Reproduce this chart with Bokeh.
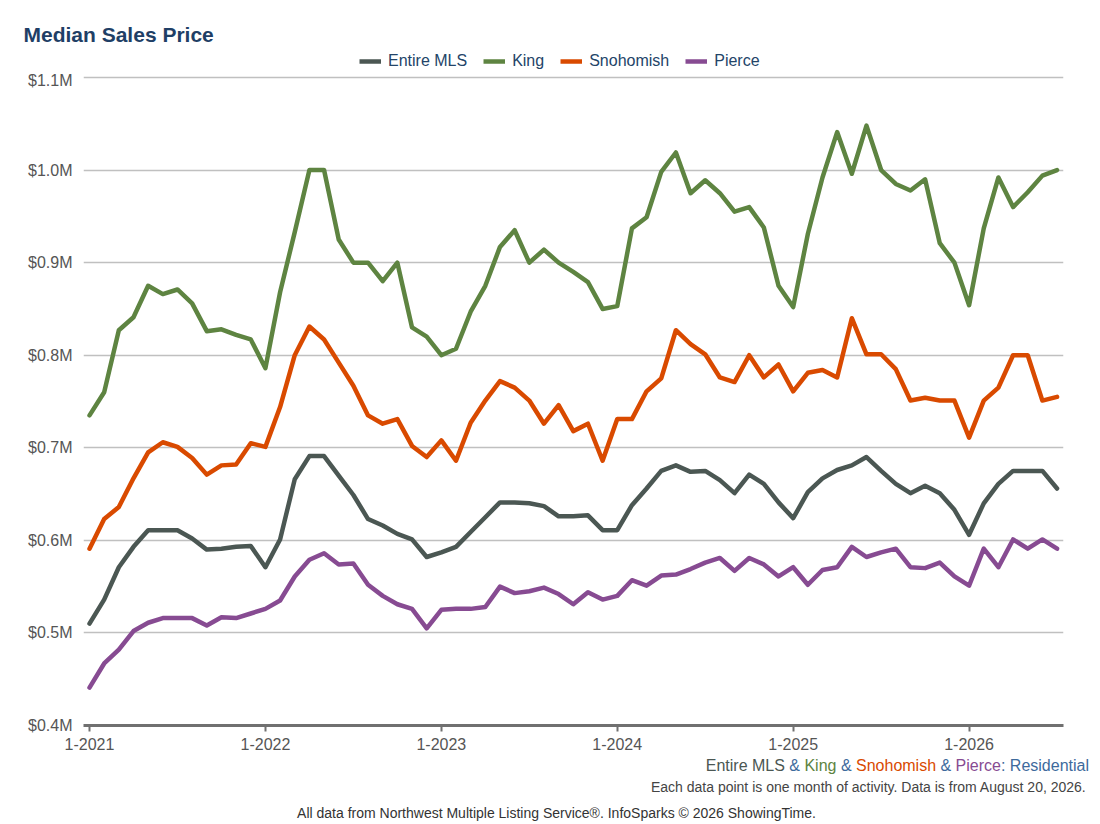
from bokeh.plotting import figure
from bokeh.layouts import column
from bokeh.models import Range1d, Legend, LegendItem, FixedTicker
from bokeh.core.properties import value
from bokeh.embed import file_html
from bokeh.resources import INLINE

# ---------------- data (median sales price, thousands of $) ----------------
months = [f"{m}-{y}" for y in range(2021, 2027) for m in range(1, 13)][:67]

entire_mls = [510, 536, 571, 593, 611, 611, 611, 602, 590, 591, 593, 594,
              571, 601, 666, 691, 691, 670, 649, 623, 616, 607, 601, 582,
              587, 593, 609, 625, 641, 641, 640, 637, 626, 626, 627, 611,
              611, 638, 656, 675, 681, 674, 675, 665, 651, 671, 661, 641,
              624, 652, 667, 676, 681, 690, 675, 661, 651, 659, 651, 633,
              606, 640, 661, 675, 675, 675, 656]
king = [735, 760, 827, 841, 875, 866, 871, 856, 826, 828, 822, 817,
        786, 868, 933, 1000, 1000, 925, 900, 900, 880, 900, 830, 820,
        800, 807, 847, 875, 917, 935, 900, 914, 900, 890, 879, 850,
        853, 937, 949, 998, 1019, 975, 989, 975, 955, 960, 938, 875,
        852, 931, 992, 1041, 996, 1048, 1000, 985, 978, 990, 921, 900,
        854, 937, 992, 960, 976, 994, 1000]
snohomish = [591, 623, 636, 667, 695, 706, 701, 689, 671, 681, 682, 705,
             701, 744, 800, 831, 817, 792, 767, 735, 726, 731, 702, 690,
             708, 686, 727, 751, 772, 765, 751, 726, 746, 718, 726, 686,
             731, 731, 761, 775, 827, 812, 801, 776, 771, 800, 776, 790,
             761, 781, 784, 776, 840, 801, 801, 785, 751, 754, 751, 751,
             711, 751, 765, 800, 800, 751, 755]
pierce = [441, 467, 482, 502, 511, 516, 516, 516, 508, 517, 516, 521,
          526, 535, 561, 579, 586, 574, 575, 552, 540, 531, 526, 505,
          525, 526, 526, 528, 550, 543, 545, 549, 542, 531, 544, 536,
          540, 557, 551, 562, 563, 569, 576, 581, 567, 581, 574, 561,
          571, 552, 568, 571, 593, 582, 587, 591, 571, 570, 576, 561,
          551, 591, 571, 601, 591, 601, 591]

series_names = ["Entire MLS", "King", "Snohomish", "Pierce"]
series_values = [entire_mls, king, snohomish, pierce]
series_colors = ["#4b5753", "#5e8441", "#d94a00", "#874b92"]

y_ticks = [400, 500, 600, 700, 800, 900, 1000, 1100]
y_tick_labels = ["$0.4M", "$0.5M", "$0.6M", "$0.7M", "$0.8M", "$0.9M", "$1.0M", "$1.1M"]

title_text = "Median Sales Price"
subtitle_parts = ["Entire MLS", " & ", "King", " & ", "Snohomish", " & ", "Pierce", ": Residential"]
note_text = "Each data point is one month of activity. Data is from August 20, 2026."
credit_text = "All data from Northwest Multiple Listing Service\u00ae. InfoSparks \u00a9 2026 ShowingTime."

# ---------------- styling ----------------
FONT = "Liberation Sans"
NAVY = "#234468"
BLUE = "#3d6a9c"
W = 1100
NAN = float("nan")


def text_fig(height, top):
    f = figure(width=W, height=height, output_backend="svg", toolbar_location=None,
               x_range=Range1d(0, W), y_range=Range1d(top + height, top),
               x_axis_type=None, y_axis_type=None, frame_align=False,
               min_border_left=0, min_border_right=0, min_border_top=0, min_border_bottom=0)
    f.outline_line_color = None
    f.xgrid.grid_line_color = None
    f.ygrid.grid_line_color = None
    return f


# ---------------- header: title + legend ----------------
HEAD_H = 71
head = text_fig(HEAD_H, 0)
head.text(x=[23], y=[34.2], text=[title_text], text_font=value(FONT),
          text_font_size=value("21px"), text_font_style="bold", text_color="#1f3f66",
          text_baseline="middle", text_align="left")

# legend swatches (line renderers with a single undrawn point, used only as legend keys)
key_renderers = [head.line(x=[NAN], y=[NAN], line_color=c, line_width=4.5) for c in series_colors]
legend = Legend(items=[LegendItem(label=n, renderers=[r]) for n, r in zip(series_names, key_renderers)],
                orientation="horizontal", location=(359, 0),
                padding=0, margin=0, spacing=16, label_standoff=7,
                glyph_width=22, glyph_height=20, label_height=20,
                border_line_color=None, background_fill_alpha=0,
                label_text_font=FONT, label_text_font_size="16px",
                label_text_color=NAVY)
head.add_layout(legend)

# ---------------- main chart ----------------
TOP_B, FRAME_H, BOT_B = 4, 650, 30
x = list(range(len(months)))
p = figure(width=W, height=TOP_B + FRAME_H + BOT_B, output_backend="svg", toolbar_location=None,
           x_range=Range1d(-0.41, 66.44), y_range=Range1d(400, 1102.16), frame_align=False,
           min_border_left=83, min_border_right=37, min_border_top=TOP_B,
           min_border_bottom=BOT_B)
p.outline_line_color = None

for name, vals, col in zip(series_names, series_values, series_colors):
    p.line(x, vals, line_color=col, line_width=4.5, line_join="round", line_cap="round")

x_tick_pos = [i for i, m in enumerate(months) if m.startswith("1-")]
p.xaxis.ticker = FixedTicker(ticks=x_tick_pos)
p.xaxis.major_label_overrides = {i: months[i] for i in x_tick_pos}
p.xaxis.axis_line_color = "#707070"
p.xaxis.axis_line_width = 3
p.xaxis.major_tick_line_color = "#707070"
p.xaxis.major_tick_line_width = 2
p.xaxis.major_tick_in = 0
p.xaxis.major_tick_out = 6
p.xaxis.minor_tick_line_color = None
p.xaxis.major_label_standoff = 6
p.xaxis.major_label_text_font = FONT
p.xaxis.major_label_text_font_size = "16px"
p.xaxis.major_label_text_color = "#555555"

p.yaxis.ticker = FixedTicker(ticks=y_ticks)
p.yaxis.major_label_overrides = dict(zip(y_ticks, y_tick_labels))
p.yaxis.axis_line_color = None
p.yaxis.major_tick_line_color = None
p.yaxis.major_tick_out = 0
p.yaxis.major_tick_in = 0
p.yaxis.minor_tick_line_color = None
p.yaxis.major_label_standoff = 11
p.yaxis.major_label_text_font = FONT
p.yaxis.major_label_text_font_size = "16px"
p.yaxis.major_label_text_color = "#555555"

p.xgrid.grid_line_color = None
p.ygrid.grid_line_color = "#c0c0c0"
p.ygrid.grid_line_width = 1.5

# ---------------- footer ----------------
FOOT_TOP = HEAD_H + TOP_B + FRAME_H + BOT_B
FOOT_H = 822 - FOOT_TOP
foot = text_fig(FOOT_H, FOOT_TOP)

# coloured subtitle, right aligned (Arial/Liberation Sans advance widths)
CW = {" ": 278, "&": 667, ":": 278, "E": 667, "n": 556, "t": 278, "i": 222, "r": 333,
      "e": 556, "M": 833, "L": 556, "S": 667, "K": 667, "g": 556, "o": 556, "h": 556,
      "m": 833, "s": 500, "P": 667, "c": 500, "R": 722, "d": 556, "a": 556, "l": 222}
part_colors = [series_colors[0], BLUE, series_colors[1], BLUE, series_colors[2], BLUE,
               series_colors[3], BLUE]
fs = 16


def adv(t):
    return sum(CW.get(ch, 556) for ch in t) * fs / 1000.0


total = sum(adv(t) for t in subtitle_parts)
cur = 1088.5 - total
xs, shown = [], []
for t in subtitle_parts:
    lead = len(t) - len(t.lstrip(" "))
    xs.append(cur + adv(" " * lead))
    shown.append(t.strip(" "))
    cur += adv(t)
foot.text(x=xs, y=[764.5] * len(xs), text=shown, text_color=part_colors,
          text_font=value(FONT), text_font_size=value(f"{fs}px"),
          text_baseline="middle", text_align="left")
foot.text(x=[1086], y=[786.7], text=[note_text], text_color="#444444",
          text_font=value(FONT), text_font_size=value("14px"),
          text_baseline="middle", text_align="right")
foot.text(x=[556], y=[812], text=[credit_text], text_color="#333333",
          text_font=value(FONT), text_font_size=value("14px"),
          text_baseline="middle", text_align="center")

layout = column(head, p, foot, spacing=0)
open("out.html", "w").write(file_html(layout, INLINE))
